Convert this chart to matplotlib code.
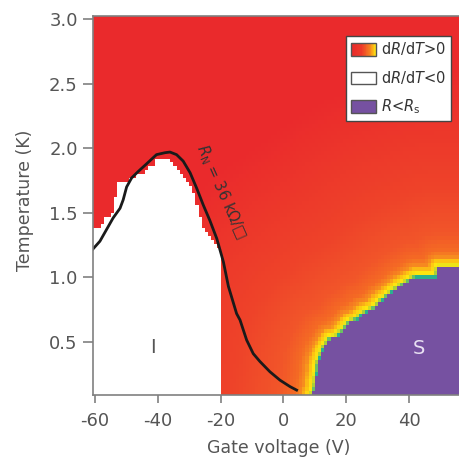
import numpy as np
import matplotlib
matplotlib.use('Agg')
import matplotlib.pyplot as plt
from matplotlib.colors import LinearSegmentedColormap, ListedColormap, Normalize
from matplotlib.patches import Patch, Rectangle
from matplotlib.legend_handler import HandlerBase

# --- values ---

# top of the insulating dome (dR/dT<0), gate voltage (V) vs temperature (K)
ins_v = [-61, -58, -57, -55, -54, -52.5, -50, -47, -44, -42, -40, -37, -35,
         -33, -31, -29, -28, -27, -26, -24, -22, -20.5, -19]
ins_t = [1.37, 1.38, 1.47, 1.47, 1.55, 1.73, 1.75, 1.78, 1.82, 1.86, 1.92, 1.92,
         1.87, 1.82, 1.77, 1.70, 1.62, 1.52, 1.40, 1.33, 1.27, 1.22, 1.20]
ins_right = -20.0  # right edge of the white region

# superconducting edge, R<Rs below it
sc_v = [9.3, 9.8, 10.3, 11.1, 12.7, 14.8, 17.0, 19.1, 21.2, 23.3, 25.4, 28.6,
        30.8, 32.9, 35.0, 37.1, 39.8, 41.9, 48.8, 49.4, 57.0]
sc_t = [0.09, 0.13, 0.20, 0.34, 0.44, 0.52, 0.54, 0.59, 0.65, 0.67, 0.72, 0.75,
        0.81, 0.85, 0.89, 0.93, 0.97, 1.00, 1.00, 1.07, 1.07]

# R_N = 36 kOhm/sq contour
rn_v = [-60.6, -58.4, -56.3, -54.2, -52.0, -51.0, -49.9, -48.3, -46.2, -43.5,
        -40.4, -37.7, -36.1, -34.0, -31.9, -29.7, -27.6, -25.5, -23.4, -21.2,
        -19.1, -17.5, -16.2, -14.9, -13.8, -11.7, -9.6, -7.5, -4.3, -1.1, 2.1, 4.2]
rn_t = [1.22, 1.28, 1.37, 1.46, 1.535, 1.60, 1.70, 1.77, 1.82, 1.88,
        1.95, 1.965, 1.97, 1.95, 1.90, 1.81, 1.69, 1.56, 1.44, 1.30,
        1.12, 0.93, 0.825, 0.72, 0.67, 0.515, 0.41, 0.35, 0.27, 0.205, 0.155, 0.128]

# colour of the dR/dT>0 region vs distance (px) from the S edge
halo_px = [0, 1.5, 3.5, 7, 11, 18, 35, 80, 200]
halo_colors = ['#2bb08f', '#a6cf3a', '#fde910', '#fcc512', '#f68c1f',
               '#f46a24', '#f15529', '#ee4329', '#ea2a2c']
purple = '#7651a1'

legend_labels = ['d$R$/d$T$>0', 'd$R$/d$T$<0', '$R$<$R_{\\rm s}$']
x_ticks = [-60, -40, -20, 0, 20, 40]
y_ticks = [0.5, 1.0, 1.5, 2.0, 2.5, 3.0]

grey = '#808080'
text_grey = '#555555'


def dist_to_polyline(pts, line):
    """shortest distance from each point to a polyline (both in display px)"""
    a = line[:-1]
    b = line[1:]
    ab = b - a
    ap = pts[:, None, :] - a[None, :, :]
    t = np.clip((ap * ab).sum(-1) / ((ab * ab).sum(-1) + 1e-9), 0, 1)
    proj = a[None, :, :] + t[..., None] * ab[None, :, :]
    return np.linalg.norm(pts[:, None, :] - proj, axis=-1).min(axis=1)


class HandlerGradient(HandlerBase):
    """legend swatch drawn as a red-orange-yellow gradient"""

    def __init__(self, cmap):
        super().__init__()
        self.cmap = cmap

    def create_artists(self, legend, orig_handle, xdescent, ydescent, width,
                       height, fontsize, trans):
        n = 30
        arts = []
        for i in range(n):
            arts.append(Rectangle((-xdescent + i * width / n, -ydescent), width / n + 0.3,
                                  height, facecolor=self.cmap(i / (n - 1)),
                                  edgecolor='none', transform=trans))
        arts.append(Rectangle((-xdescent, -ydescent), width, height, facecolor='none',
                              edgecolor=text_grey, lw=1.0, transform=trans))
        return arts


plt.rcParams['axes.unicode_minus'] = False
plt.rcParams['font.family'] = ['DejaVu Sans']

fig = plt.figure(figsize=(4.6, 4.59), dpi=100)
ax = fig.add_axes([93 / 460, 64 / 459, 367 / 460, 379 / 459])
ax.set_xlim(-60.6, 56.2)
ax.set_ylim(0.09, 3.023)

# grid of the map
v_edges = np.arange(-61, 57.5, 1.0)
t_edges = np.arange(0.09, 3.05, 0.03)
vc = 0.5 * (v_edges[:-1] + v_edges[1:])
tc = 0.5 * (t_edges[:-1] + t_edges[1:])
VV, TT = np.meshgrid(vc, tc)

white = (VV < ins_right) & (TT < np.interp(VV, ins_v, ins_t))
sc = TT < np.interp(VV, sc_v, sc_t, left=-1.0)

# distance (in pixels) from the superconducting edge
edge = np.column_stack([[sc_v[0]] + sc_v, [0.0] + sc_t])
edge_px = ax.transData.transform(edge)
pts_px = ax.transData.transform(np.column_stack([VV.ravel(), TT.ravel()]))
dist = dist_to_polyline(pts_px, edge_px).reshape(VV.shape)

halo_cmap = LinearSegmentedColormap.from_list(
    'halo', list(zip(np.array(halo_px) / halo_px[-1], halo_colors)))

ax.pcolormesh(v_edges, t_edges, np.ma.masked_where(white | sc, dist),
              cmap=halo_cmap, norm=Normalize(0, halo_px[-1], clip=True))
ax.pcolormesh(v_edges, t_edges, np.ma.masked_where(~sc, np.ones_like(dist)),
              cmap=ListedColormap([purple]))

ax.plot(rn_v, rn_t, color='#1a1a1a', lw=2.0)
ax.text(-19.8, 1.66, '$R_{\\rm N}$ = 36 k$\\Omega$/\u25a1', rotation=-66,
        rotation_mode='anchor', ha='center', va='center', fontsize=10.5, color='#333333')
ax.text(-41.6, 0.46, 'I', ha='center', va='center', fontsize=14, color=text_grey)
ax.text(43.2, 0.45, 'S', ha='center', va='center', fontsize=14, color='#e8e0f2')

# axes styling
for side in ['left', 'bottom', 'top']:
    ax.spines[side].set_color(grey)
    ax.spines[side].set_linewidth(1.2)
ax.spines['right'].set_visible(False)
ax.set_xticks(x_ticks)
ax.set_yticks(y_ticks)
ax.set_yticklabels(['%.1f' % y for y in y_ticks])
ax.tick_params(direction='out', width=1.2, color=grey, labelcolor=text_grey, labelsize=13)
ax.tick_params(axis='x', length=6, pad=6)
ax.tick_params(axis='y', length=7, pad=4)
ax.set_xlabel('Gate voltage (V)', fontsize=12.5, color=text_grey)
ax.set_ylabel('Temperature (K)', fontsize=12.5, color=text_grey)
ax.xaxis.set_label_coords(0.507, -0.115)
ax.yaxis.set_label_coords(-0.162, 0.515)

# legend
leg_cmap = LinearSegmentedColormap.from_list(
    'leg', [(0, '#e8282a'), (0.45, '#ef3b2a'), (0.75, '#f47a22'), (0.92, '#fbb416'), (1, '#ffe815')])
grad_handle = Patch()
handles = [grad_handle,
           Patch(facecolor='white', edgecolor=text_grey, lw=1.0),
           Patch(facecolor=purple, edgecolor=text_grey, lw=1.0)]
leg = ax.legend(handles, legend_labels, handler_map={grad_handle: HandlerGradient(leg_cmap)},
                loc='upper right', bbox_to_anchor=(451 / 460, 1 - 36 / 459),
                bbox_transform=fig.transFigure, borderaxespad=0, fancybox=False,
                framealpha=1, edgecolor='#444444', fontsize=10.5, handlelength=1.7,
                handleheight=0.95, handletextpad=0.4, labelspacing=0.8, borderpad=0.3)
leg.get_frame().set_linewidth(1.0)
for t in leg.get_texts():
    t.set_color('#333333')

fig.savefig('out.png', dpi=100)
